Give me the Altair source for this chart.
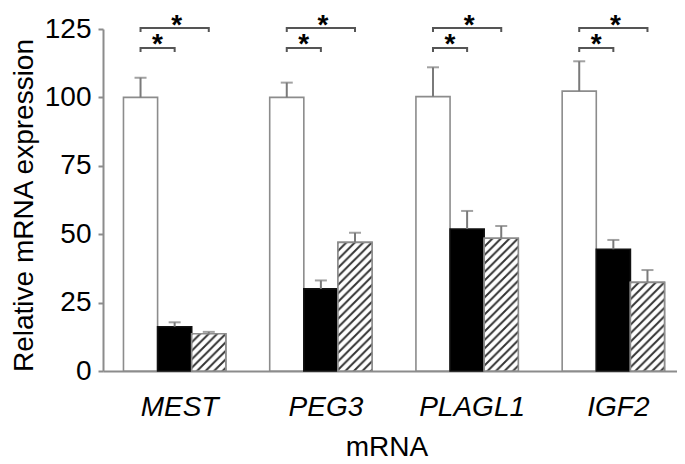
import urllib.parse
import altair as alt
import pandas as pd

# ---------------- data ----------------
genes = ["MEST", "PEG3", "PLAGL1", "IGF2"]
groups = ["Control", "Group 1", "Group 2"]
control_mean = [100.0, 100.0, 100.3, 102.3]
control_sem = [7.2, 5.4, 10.7, 10.9]
group1_mean = [16.2, 30.0, 51.9, 44.5]
group1_sem = [1.6, 3.1, 6.6, 3.4]
group2_mean = [13.6, 47.0, 48.5, 32.4]
group2_sem = [0.7, 3.5, 4.5, 4.5]
y_ticks = [0, 25, 50, 75, 100, 125]

# significance brackets (same for every gene)
bracket_from = ["Control", "Control"]
bracket_to = ["Group 1", "Group 2"]
bracket_level = [118.1, 125.4]
bracket_drop = 1.5
star_level = [116.3, 123.3]
star_text = ["*", "*"]

# ---------------- tables ----------------
means = [control_mean, group1_mean, group2_mean]
sems = [control_sem, group1_sem, group2_sem]
rows = []
for i, g in enumerate(genes):
    for j, grp in enumerate(groups):
        rows.append({"gene": g, "group": grp, "mean": means[j][i], "sem": sems[j][i]})
bars = pd.DataFrame(rows)

brows = []
for g in genes:
    for b in range(len(bracket_level)):
        lvl = bracket_level[b]
        pid = f"{g}-{b}"
        brows += [
            {"gene": g, "group": bracket_from[b], "y": lvl - bracket_drop, "o": 0, "id": pid},
            {"gene": g, "group": bracket_from[b], "y": lvl, "o": 1, "id": pid},
            {"gene": g, "group": bracket_to[b], "y": lvl, "o": 2, "id": pid},
            {"gene": g, "group": bracket_to[b], "y": lvl - bracket_drop, "o": 3, "id": pid},
        ]
brackets = pd.DataFrame(brows)

stars_low = pd.DataFrame({"gene": genes, "group": [groups[0]] * 4, "y": [star_level[0]] * 4, "t": [star_text[0]] * 4})
stars_up = pd.DataFrame({"gene": genes, "group": [groups[1]] * 4, "y": [star_level[1]] * 4, "t": [star_text[1]] * 4})

# hatch pattern image
hatch_svg = (
    "<svg xmlns='http://www.w3.org/2000/svg' width='100%' height='100%'>"
    "<defs><pattern id='h' patternUnits='userSpaceOnUse' width='8.5' height='8.5'>"
    "<path d='M-2,2 L2,-2 M0,8.5 L8.5,0 M6.5,10.5 L10.5,6.5' stroke='#333333' stroke-width='2'/>"
    "</pattern></defs><rect width='100%' height='100%' fill='white'/>"
    "<rect width='100%' height='100%' fill='url(#h)'/></svg>"
)
hatch_url = "data:image/svg+xml;charset=utf-8," + urllib.parse.quote(hatch_svg)

FONT = "Liberation Sans"
GRAY = "#8c8c8c"
YTITLE = "Relative mRNA expression"

x_enc = alt.X(
    "gene:N", sort=genes,
    scale=alt.Scale(range=[0, 582], paddingInner=0.3, paddingOuter=0.14),
    axis=alt.Axis(
        title="mRNA", labelAngle=0, labelFontStyle="italic", labelFontSize=28,
        labelPadding=22, labelOffset=5, ticks=False, tickSize=0, domainColor=GRAY, domainWidth=2,
        titleFontSize=28, titleFontWeight="normal", titleY=84, titleX=283.5,
        titleAlign="center", titleBaseline="alphabetic", labelColor="black", titleColor="black",
        labelFont=FONT, titleFont=FONT,
    ),
)
xo_enc = alt.XOffset("group:N", sort=groups, scale=alt.Scale(domain=groups))
y_scale = alt.Scale(domain=[0, 125], nice=False, zero=True)

bar_layer = alt.Chart(bars).mark_bar(strokeWidth=1.6).encode(
    x=x_enc, xOffset=xo_enc,
    y=alt.Y("mean:Q", scale=y_scale, title=YTITLE, axis=alt.Axis(
        values=y_ticks, labelFontSize=28, labelPadding=7, tickSize=5,
        tickColor=GRAY, tickWidth=2, domainColor=GRAY, domainWidth=2,
        grid=False, titleFontSize=28, titleFontWeight="normal",
        titleX=-71, titleY=176, titleBaseline="alphabetic", titleAlign="center",
        labelColor="black", titleColor="black", labelFont=FONT, titleFont=FONT,
    )),
    fill=alt.Fill("group:N", scale=alt.Scale(domain=groups, range=["white", "black", "white"]), legend=None),
    stroke=alt.Stroke("group:N", scale=alt.Scale(domain=groups, range=[GRAY, "#111111", GRAY]), legend=None),
)

hatch_layer = alt.Chart(bars).transform_filter(
    alt.datum.group == groups[2]
).mark_image(aspect=False).encode(
    x=x_enc, xOffset=xo_enc,
    y=alt.Y("mean:Q", scale=y_scale, title=YTITLE),
    y2=alt.datum(0),
    url=alt.value(hatch_url),
)

outline_layer = alt.Chart(bars).transform_filter(
    alt.datum.group == groups[2]
).mark_bar(fillOpacity=0, stroke=GRAY, strokeWidth=1.6).encode(
    x=x_enc, xOffset=xo_enc,
    y=alt.Y("mean:Q", scale=y_scale, title=YTITLE),
)

err_rule = alt.Chart(bars).transform_calculate(
    upper="datum.mean + datum.sem"
).mark_rule(color="#7a7a7a", strokeWidth=2).encode(
    x=x_enc, xOffset=xo_enc,
    y=alt.Y("mean:Q", scale=y_scale, title=YTITLE),
    y2="upper:Q",
)

err_cap = alt.Chart(bars).transform_calculate(
    upper="datum.mean + datum.sem"
).mark_tick(color="#7a7a7a", thickness=2, size=12).encode(
    x=x_enc, xOffset=xo_enc,
    y=alt.Y("upper:Q", scale=y_scale, title=YTITLE),
)

bracket_layer = alt.Chart(brackets).mark_line(color="#555555", strokeWidth=2).encode(
    x=x_enc, xOffset=xo_enc,
    y=alt.Y("y:Q", scale=y_scale, title=YTITLE),
    detail="id:N",
    order="o:Q",
)

star_low_layer = alt.Chart(stars_low).mark_text(
    fontSize=28, fontWeight="bold", font=FONT, dx=17, baseline="alphabetic", color="black"
).encode(
    x=x_enc, xOffset=xo_enc,
    y=alt.Y("y:Q", scale=y_scale, title=YTITLE),
    text="t:N",
)
star_up_layer = alt.Chart(stars_up).mark_text(
    fontSize=28, fontWeight="bold", font=FONT, dx=2, baseline="alphabetic", color="black"
).encode(
    x=x_enc, xOffset=xo_enc,
    y=alt.Y("y:Q", scale=y_scale, title=YTITLE),
    text="t:N",
)

chart = alt.layer(
    bar_layer, hatch_layer, outline_layer, err_rule, err_cap,
    bracket_layer, star_low_layer, star_up_layer,
).properties(
    width=574, height=342,
    autosize=alt.AutoSizeParams(type="none"),
    padding={"left": 95, "top": 21, "right": 0, "bottom": 92},
    background="white",
).configure_view(stroke=None).configure_axis(labelFont=FONT, titleFont=FONT)

chart.save("out.html", embed_options={"renderer": "svg", "actions": False})
